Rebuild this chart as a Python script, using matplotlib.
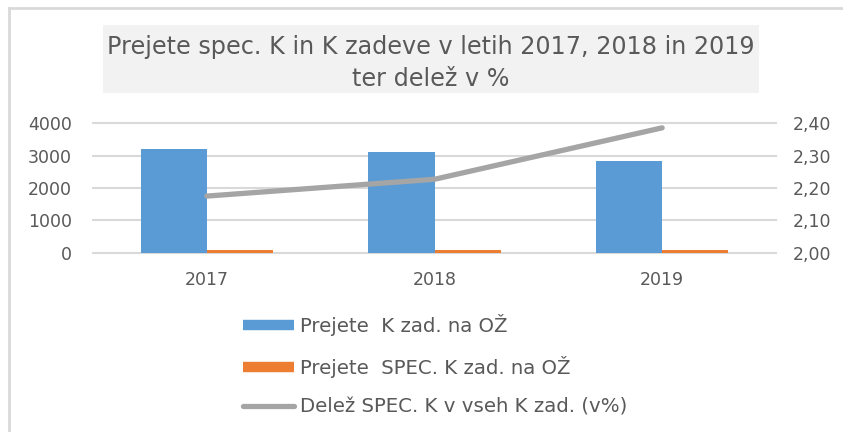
import numpy as np
import matplotlib.pyplot as plt
from matplotlib.lines import Line2D
from matplotlib.patches import Rectangle

plt.rcParams['font.family'] = ['DejaVu Sans']

years = ["2017", "2018", "2019"]
prejete_k = [3204, 3110, 2830]
prejete_spec = [85, 80, 75]
delez = [2.175, 2.227, 2.386]

labels = ["Prejete  K zad. na OŽ", "Prejete  SPEC. K zad. na OŽ", "Delež SPEC. K v vseh K zad. (v%)"]
title = "Prejete spec. K in K zadeve v letih 2017, 2018 in 2019\nter delež v %"

blue = "#5B9BD5"
orange = "#ED7D31"
gray = "#A5A5A5"
txt = "#595959"

W, H = 843, 432
fig = plt.figure(figsize=(W / 100, H / 100), dpi=100)

def fx(px):
    return px / W

def fy(py):
    return 1 - py / H

# frame lines
fig.add_artist(Line2D([fx(9), fx(9)], [fy(8), 0], color="#D9D9D9", lw=2))
fig.add_artist(Line2D([fx(9), 1], [fy(8), fy(8)], color="#D9D9D9", lw=2))

# title box
fig.add_artist(Rectangle((fx(103), fy(93)), fx(759) - fx(103), fy(25) - fy(93),
                         facecolor="#F2F2F2", edgecolor="none"))
fig.text(fx(431), fy(63), title, ha="center", va="center", fontsize=17.2,
         color=txt, linespacing=1.45)

ax = fig.add_axes([fx(93), fy(252.7), fx(776) - fx(93), fy(123.3) - fy(252.7)])
x = np.arange(len(years))
w = 0.29
ax.bar(x - w / 2, prejete_k, w, color=blue, zorder=2)
ax.bar(x + w / 2, prejete_spec, w, color=orange, zorder=2)
ax.set_xlim(-0.5, 2.5)
ax.set_ylim(0, 4000)
ax.set_yticks([0, 1000, 2000, 3000, 4000])
ax.set_xticks(x)
ax.set_xticklabels(years)
ax.yaxis.grid(True, color="#D9D9D9", lw=1.5, zorder=0)
for gl in ax.get_ygridlines():
    gl.set_clip_on(False)
ax.set_axisbelow(True)
for s in ax.spines.values():
    s.set_visible(False)
ax.tick_params(length=0, labelsize=12.5, colors=txt)
ax.tick_params(axis="x", pad=13)
ax.tick_params(axis="y", pad=15)

ax2 = ax.twinx()
ax2.plot(x, delez, color=gray, lw=3.8, solid_capstyle="round", zorder=3)
ax2.set_ylim(2.0, 2.4)
ax2.set_yticks([2.0, 2.1, 2.2, 2.3, 2.4])
ax2.set_yticklabels(["2,00", "2,10", "2,20", "2,30", "2,40"])
for s in ax2.spines.values():
    s.set_visible(False)
ax2.tick_params(length=0, labelsize=12.5, colors=txt, pad=12)

handles = [Line2D([], [], color=blue, lw=7.5, solid_capstyle="butt"),
           Line2D([], [], color=orange, lw=7.5, solid_capstyle="butt"),
           Line2D([], [], color=gray, lw=3.8, solid_capstyle="round")]
leg = fig.legend(handles, labels, loc="upper left", bbox_to_anchor=(fx(243), fy(314)),
                 frameon=False, fontsize=14.2, handlelength=2.6, handletextpad=0.3,
                 labelspacing=1.0, borderpad=0, borderaxespad=0)
for t in leg.get_texts():
    t.set_color(txt)

fig.savefig("out.png", dpi=100)
